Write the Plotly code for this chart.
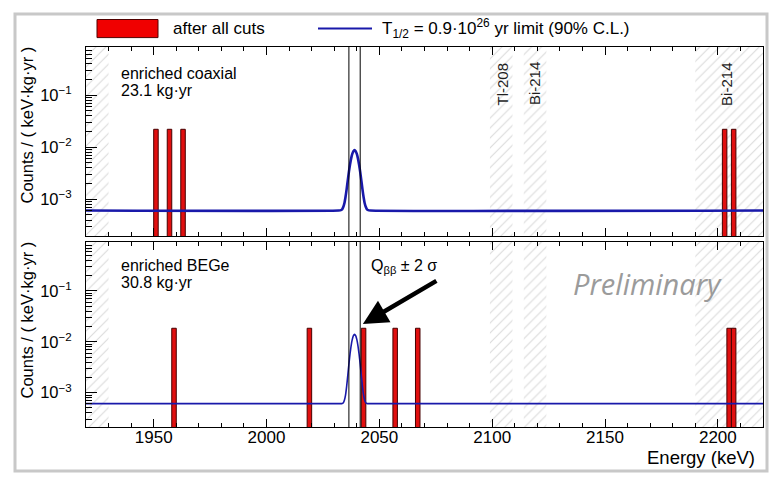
import plotly.graph_objects as go

# ---------------- data ----------------
E_MIN, E_MAX = 1920, 2220
BIN_WIDTH = 2  # keV

coax_energy = [1951, 1957, 1963, 2203, 2207]
coax_counts = [0.022, 0.022, 0.022, 0.022, 0.022]

bege_energy = [1959, 2019, 2043, 2057, 2067, 2205, 2207]
bege_counts = [0.0185, 0.0185, 0.0185, 0.0185, 0.0185, 0.0185, 0.0185]

# excluded (hatched) windows
excl_lo = [1920, 2099, 2114, 2190]
excl_hi = [1930, 2109, 2124, 2220]

# gamma line labels
gamma_labels = ["Tl-208", "Bi-214", "Bi-214"]
gamma_energy = [2105, 2119, 2204]

# Q_bb +- 2 sigma window
qbb_lo, qbb_hi = 2036.5, 2041.5

# T1/2 limit curves
limit_x = [1920, 2032, 2033, 2033.5, 2034, 2034.5, 2035, 2035.5, 2036, 2036.5, 2037,
           2037.5, 2038, 2038.5, 2039, 2039.5, 2040, 2040.5, 2041, 2041.5, 2042,
           2042.5, 2043, 2043.5, 2044, 2044.5, 2045, 2046, 2220]
coax_limit = [6.1e-4, 6.1e-4, 6.2e-4, 6.4e-4, 7.1e-4, 8.4e-4, 1.11e-3, 1.57e-3, 2.31e-3,
              3.35e-3, 4.65e-3, 6.09e-3, 7.41e-3, 8.36e-3, 8.8e-3, 8.36e-3, 7.41e-3,
              6.09e-3, 4.65e-3, 3.35e-3, 2.31e-3, 1.57e-3, 1.11e-3, 8.4e-4, 7.1e-4,
              6.4e-4, 6.2e-4, 6.1e-4, 6.1e-4]
bege_limit = [6.1e-4, 6.1e-4, 6.1e-4, 6.1e-4, 6.35e-4, 7.1e-4, 9.0e-4, 1.33e-3, 2.18e-3,
              3.63e-3, 5.77e-3, 8.45e-3, 1.116e-2, 1.322e-2, 1.4e-2, 1.322e-2, 1.116e-2,
              8.45e-3, 5.77e-3, 3.63e-3, 2.18e-3, 1.33e-3, 9.0e-4, 7.1e-4, 6.35e-4,
              6.1e-4, 6.1e-4, 6.1e-4, 6.1e-4]

y_major = [1e-3, 1e-2, 1e-1]
y_major_text = ["10<sup>\u22123</sup>", "10<sup>\u22122</sup>", "10<sup>\u22121</sup>"]
y_minor = [m * d for d in (1e-4, 1e-3, 1e-2, 1e-1) for m in range(2, 10)]

# ---------------- style / layout constants ----------------
W, H = 775, 478
ML, MR, MT, MB = 86, 12, 47, 51
PW, PH = W - ML - MR, H - MT - MB


def px(xp):
    return (xp - ML) / PW


def py(yp):
    return (H - MB - yp) / PH


FONT = "Liberation Sans"
RED = "rgb(225,15,15)"
RED_EDGE = "rgb(70,0,0)"
BLUE = "rgb(25,25,170)"
HATCH = "rgb(180,180,180)"

fig = go.Figure()

centers = [(a + b) / 2 for a, b in zip(excl_lo, excl_hi)]
widths = [b - a for a, b in zip(excl_lo, excl_hi)]

panels = [("x", "y", coax_energy, coax_counts, coax_limit, 2.6),
          ("x2", "y2", bege_energy, bege_counts, bege_limit, 1.6)]
for xa, ya, ev_x, ev_y, lim_y, lw in panels:
    fig.add_trace(go.Bar(
        x=centers, y=[10] * len(centers), base=[1e-6] * len(centers), width=widths,
        xaxis=xa, yaxis=ya,
        marker=dict(color="white", line=dict(width=0),
                    pattern=dict(shape="/", fgcolor=HATCH, bgcolor="white",
                                 size=7, solidity=0.15)),
        hoverinfo="skip", showlegend=False))
    fig.add_trace(go.Bar(
        x=ev_x, y=ev_y, base=[1e-6] * len(ev_x), width=BIN_WIDTH,
        xaxis=xa, yaxis=ya,
        marker=dict(color=RED, line=dict(color=RED_EDGE, width=1)),
        hoverinfo="skip", showlegend=False))
    fig.add_trace(go.Scatter(
        x=limit_x, y=lim_y, mode="lines", xaxis=xa, yaxis=ya,
        line=dict(color=BLUE, width=lw, shape="spline", smoothing=0.6),
        hoverinfo="skip", showlegend=False))

xcommon = dict(range=[E_MIN, E_MAX], showgrid=False, zeroline=False,
               showline=True, linecolor="black", linewidth=1, mirror="ticks",
               ticks="inside", ticklen=8, tickcolor="black", tick0=1950, dtick=50,
               minor=dict(ticks="inside", ticklen=4, dtick=10, tick0=1920, tickcolor="black"))
ycommon = dict(type="log", showgrid=False, zeroline=False,
               showline=True, linecolor="black", linewidth=1, mirror=True,
               ticks="inside", ticklen=11, tickcolor="black",
               tickmode="array", tickvals=y_major, ticktext=y_major_text,
               tickfont=dict(size=16.5, color="black"), ticklabelstandoff=10,
               minor=dict(ticks="inside", ticklen=6, tickmode="array",
                          tickvals=y_minor, tickcolor="black"))

top_dom = [py(236), 1.0]
bot_dom = [0.0, py(242)]

fig.update_layout(
    width=W, height=H, margin=dict(l=ML, r=MR, t=MT, b=MB),
    paper_bgcolor="white", plot_bgcolor="white",
    font=dict(family=FONT, color="black"),
    barmode="overlay", showlegend=False,
    xaxis=dict(**xcommon, anchor="y", showticklabels=False, domain=[0, 1]),
    xaxis2=dict(**xcommon, anchor="y2", matches="x", domain=[0, 1],
                tickfont=dict(size=17, color="black"), ticklabelstandoff=-5),
    yaxis=dict(**ycommon, domain=top_dom, anchor="x", range=[-3.704, -0.0796]),
    yaxis2=dict(**ycommon, domain=bot_dom, anchor="x2", range=[-3.675, -0.0364]),
)

shapes = []
# card frame
shapes.append(dict(type="rect", xref="paper", yref="paper",
                   x0=px(15), x1=px(767), y0=py(471), y1=py(14),
                   line=dict(color="rgb(200,200,200)", width=3), layer="below"))
# Q_bb window lines
for xa, ya in (("x", "y"), ("x2", "y2")):
    for q in (qbb_lo, qbb_hi):
        shapes.append(dict(type="line", xref=xa, yref=ya + " domain",
                           x0=q, x1=q, y0=0, y1=1,
                           line=dict(color="black", width=1)))
# legend
shapes.append(dict(type="rect", xref="paper", yref="paper",
                   x0=px(97), x1=px(158), y0=py(37.6), y1=py(19.5),
                   fillcolor="rgb(240,0,0)", line=dict(color="rgb(80,0,0)", width=1)))
shapes.append(dict(type="line", xref="paper", yref="paper",
                   x0=px(318), x1=px(372), y0=py(28.5), y1=py(28.5),
                   line=dict(color=BLUE, width=2)))
fig.update_layout(shapes=shapes)

ann = []


def txt(text, x, y, size=16, xanchor="left", yanchor="middle", angle=0, color="black",
        family=FONT, italic=False):
    ann.append(dict(text=text, xref="paper", yref="paper", x=x, y=y,
                    xanchor=xanchor, yanchor=yanchor, textangle=angle, showarrow=False,
                    font=dict(size=size, color=color, family=family,
                              style="italic" if italic else "normal")))


txt("after all cuts", px(171), py(28.5), size=17)
txt("T<sub>1/2</sub> = 0.9\u00b710<sup>26</sup> yr limit (90% C.L.)", px(380), py(28.5),
    size=17)
txt("enriched coaxial", px(119), py(73))
txt("23.1 kg\u00b7yr", px(119), py(90))
txt("enriched BEGe", px(119), py(265))
txt("30.8 kg\u00b7yr", px(119), py(282))
txt("Counts / ( keV\u00b7kg\u00b7yr )", px(26), py(45), size=16.5, xanchor="center",
    yanchor="top", angle=-90)
txt("Counts / ( keV\u00b7kg\u00b7yr )", px(26), py(240), size=16.5, xanchor="center",
    yanchor="top", angle=-90)
txt("Energy (keV)", px(757), py(458), size=18.5, xanchor="right")
txt("Q<sub>\u03b2\u03b2</sub> \u00b1 2 \u03c3", px(369), py(266), size=16)
txt("Preliminary", px(647), py(283), size=29, xanchor="center",
    color="rgb(155,155,155)", family="Open Sans", italic=True)
for lab, e in zip(gamma_labels, gamma_energy):
    ann.append(dict(text=lab, xref="x", yref="paper", x=e, y=py(84),
                    xanchor="center", yanchor="middle", textangle=-90, showarrow=False,
                    font=dict(size=15, color="rgb(30,30,30)", family=FONT)))
# arrow to Q_bb window
ann.append(dict(text="", xref="x2", yref="y2", x=2042.7, y=-1.649,
                ax=75, ay=-44, showarrow=True, arrowhead=2, arrowsize=1.1,
                arrowwidth=4.5, arrowcolor="black", standoff=0))
fig.update_layout(annotations=ann)

fig.write_html("out.html")
